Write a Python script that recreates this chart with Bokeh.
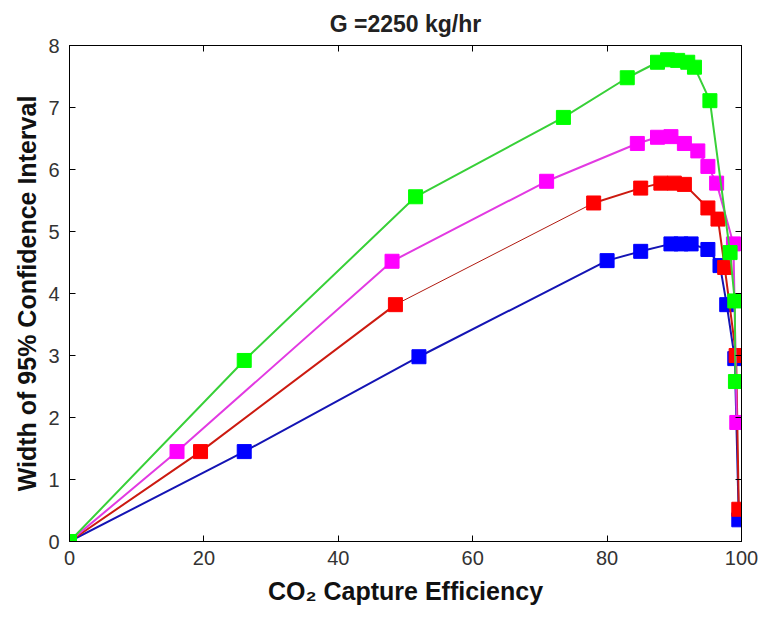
from bokeh.plotting import figure
from bokeh.models import LinearAxis, FixedTicker, Range1d
from bokeh.embed import file_html
from bokeh.resources import INLINE

# ---- data ----
x_ticks = [0, 20, 40, 60, 80, 100]
y_ticks = [0, 1, 2, 3, 4, 5, 6, 7, 8]

eff_blue = [0, 26, 52, 80, 85, 89.5, 91, 92.5, 95, 96.8, 97.8, 99.0, 99.6]
wid_blue = [0, 1.45, 2.98, 4.53, 4.68, 4.80, 4.80, 4.80, 4.71, 4.45, 3.82, 2.95, 0.35]

eff_red = [0, 19.5, 48.5, 78, 85, 88, 90, 91.5, 95, 96.5, 97.5, 99.2, 99.6]
wid_red = [0, 1.45, 3.82, 5.46, 5.70, 5.78, 5.78, 5.76, 5.38, 5.20, 4.42, 3.00, 0.52]

eff_mag = [0, 16, 48, 71, 84.5, 87.5, 89.5, 91.5, 93.5, 95, 96.3, 98.8, 99.3]
wid_mag = [0, 1.45, 4.52, 5.81, 6.42, 6.52, 6.53, 6.42, 6.30, 6.05, 5.78, 4.80, 1.92]

eff_grn = [0, 26, 51.5, 73.5, 83, 87.5, 89, 90.5, 92, 93, 95.3, 98.3, 99.0, 99.1]
wid_grn = [0, 2.92, 5.56, 6.84, 7.48, 7.73, 7.77, 7.76, 7.73, 7.65, 7.11, 4.66, 3.88, 2.58]

FONT = "Liberation Sans"

p = figure(width=764, height=639, x_range=Range1d(0, 100), y_range=Range1d(0, 8),
           output_backend="svg", toolbar_location=None,
           title="G =2250 kg/hr",
           min_border_left=69, min_border_right=23, min_border_top=45, min_border_bottom=98)

p.title.align = "center"
p.title.text_font = FONT
p.title.text_font_size = "23px"
p.title.text_font_style = "bold"
p.title.text_color = "#222222"
p.title.standoff = 17

p.xgrid.visible = False
p.ygrid.visible = False
p.outline_line_color = "#000000"
p.background_fill_color = "white"
p.border_fill_color = "white"

for ax in (p.xaxis[0], p.yaxis[0]):
    ax.major_tick_in = 6
    ax.major_tick_out = 0
    ax.minor_tick_in = 0
    ax.minor_tick_out = 0
    ax.axis_line_color = "black"
    ax.major_tick_line_color = "black"
    ax.major_label_text_font = FONT
    ax.major_label_text_font_size = "20px"
    ax.major_label_text_color = "#333333"
    ax.axis_label_text_font = FONT
    ax.axis_label_text_font_size = "25px"
    ax.axis_label_text_font_style = "bold"
    ax.axis_label_text_color = "#111111"

p.xaxis[0].ticker = FixedTicker(ticks=x_ticks)
p.yaxis[0].ticker = FixedTicker(ticks=y_ticks)
p.xaxis[0].axis_label = "CO₂ Capture Efficiency"
p.yaxis[0].axis_label = "Width of 95% Confidence Interval"
p.xaxis[0].major_label_standoff = 9
p.yaxis[0].major_label_standoff = 10
p.xaxis[0].axis_label_standoff = 9
p.yaxis[0].axis_label_standoff = 4

top = LinearAxis(ticker=FixedTicker(ticks=x_ticks), major_tick_in=6, major_tick_out=0,
                 minor_tick_in=0, minor_tick_out=0,
                 major_label_overrides={t: "" for t in x_ticks},
                 major_label_standoff=0)
right = LinearAxis(ticker=FixedTicker(ticks=y_ticks), major_tick_in=6, major_tick_out=0,
                   minor_tick_in=0, minor_tick_out=0,
                   major_label_overrides={t: "" for t in y_ticks},
                   major_label_standoff=0)
p.add_layout(top, "above")
p.add_layout(right, "right")

# blue
p.line(eff_blue, wid_blue, line_color="#1414b4", line_width=2)
p.scatter(eff_blue, wid_blue, marker="square", size=14, fill_color="#0000ff", line_color="#0000ff")
# red (middle segment drawn thinner, as in the reference)
p.line(eff_red[:3], wid_red[:3], line_color="#cc1a10", line_width=2)
p.line(eff_red[2:4], wid_red[2:4], line_color="#b01a10", line_width=1)
p.line(eff_red[3:], wid_red[3:], line_color="#cc1a10", line_width=2)
p.scatter(eff_red, wid_red, marker="square", size=14, fill_color="#ff0000", line_color="#ff0000")
# magenta
p.line(eff_mag, wid_mag, line_color="#e23ae2", line_width=2)
p.scatter(eff_mag, wid_mag, marker="square", size=14, fill_color="#ff00ff", line_color="#ff00ff")
# green
p.line(eff_grn, wid_grn, line_color="#38d038", line_width=2)
p.scatter(eff_grn, wid_grn, marker="square", size=14, fill_color="#00ff00", line_color="#00ff00")

open("out.html", "w").write(file_html(p, INLINE))
